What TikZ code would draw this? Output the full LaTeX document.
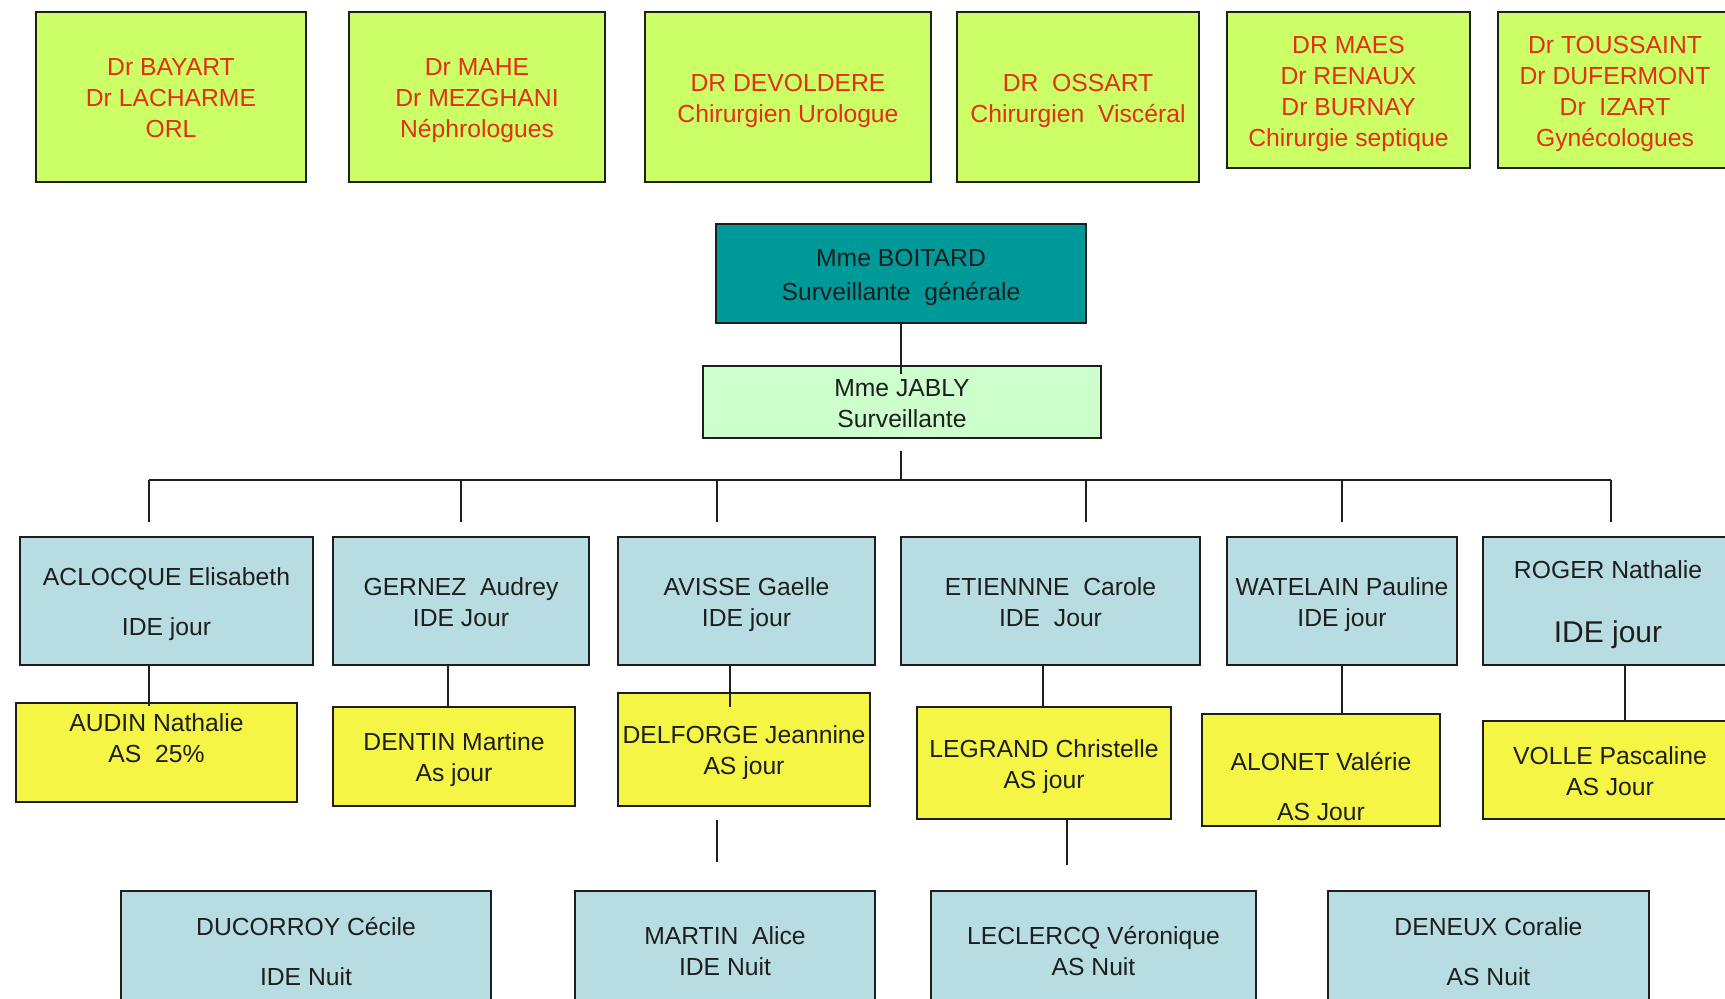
\documentclass[tikz,border=0pt]{standalone}
\usepackage{fontspec}
\setmainfont{Liberation Sans}
\usetikzlibrary{calc}
\definecolor{limegr}{RGB}{204,255,102}
\definecolor{docred}{RGB}{226,48,22}
\definecolor{tealbox}{RGB}{0,153,153}
\definecolor{palegr}{RGB}{204,255,204}
\definecolor{lblue}{RGB}{183,221,227}
\definecolor{ylw}{RGB}{245,245,70}
\definecolor{edge}{RGB}{30,30,30}
\definecolor{txtdark}{RGB}{30,30,30}
\newcommand\chartfont{\fontsize{24.7}{31}\selectfont\setbox\strutbox\hbox{\vrule height 25pt depth 6pt width 0pt}}
\newcommand\bigfont{\fontsize{30}{31}\selectfont}
\begin{document}
\begin{tikzpicture}[x=1pt,y=-1pt,
  box/.style={draw=edge, line width=2pt, inner sep=0pt, align=center, font=\chartfont, text=txtdark},
  docbox/.style={box, fill=limegr, text=docred},
  bossbox/.style={box, fill=tealbox},
  chefbox/.style={box, fill=palegr},
  idebox/.style={box, fill=lblue},
  asbox/.style={box, fill=ylw},
  link/.style={draw=edge, line width=2pt}]
\useasboundingbox (0,0) rectangle (1725,999);
\clip (0,0) rectangle (1725,999);
\fill[white] (0,0) rectangle (1725,999);

% doctors
\node[docbox, minimum width=270, minimum height=170] (d1) at (171,97) {\strut Dr BAYART\\\strut Dr LACHARME\\\strut ORL};
\node[docbox, minimum width=256, minimum height=170] (d2) at (477,97) {\strut Dr MAHE\\\strut Dr MEZGHANI\\\strut Néphrologues};
\node[docbox, minimum width=286, minimum height=170] (d3) at (788,97) {\strut DR DEVOLDERE\\\strut Chirurgien Urologue};
\node[docbox, minimum width=242, minimum height=170] (d4) at (1078,97) {\strut DR\ \ OSSART\\\strut Chirurgien\ \ Viscéral};
\node[docbox, minimum width=243, minimum height=156] (d5) at (1348.5,90) {\strut DR MAES\\\strut Dr RENAUX\\\strut Dr BURNAY\\\strut Chirurgie septique};
\node[docbox, minimum width=234, minimum height=156] (d6) at (1615,90) {\strut Dr TOUSSAINT\\\strut Dr DUFERMONT\\\strut Dr\ \ IZART\\\strut Gynécologues};

% management
\node[bossbox, minimum width=370, minimum height=99] (boss) at (901,273.5) {\strut Mme BOITARD\\[3pt]\strut Surveillante\ \ générale};
\node[chefbox, minimum width=398, minimum height=72] (jably) at (902,402) {\strut Mme JABLY\\\strut Surveillante};

% day nurses
\node[idebox, minimum width=293, minimum height=128] (n1) at (166.5,601) {\strut ACLOCQUE Elisabeth\\[19pt]\strut IDE jour};
\node[idebox, minimum width=256, minimum height=128] (n2) at (461,601) {\strut GERNEZ\ \ Audrey\\\strut IDE Jour};
\node[idebox, minimum width=257, minimum height=128] (n3) at (746.5,601) {\strut AVISSE Gaelle\\\strut IDE jour};
\node[idebox, minimum width=299, minimum height=128] (n4) at (1050.5,601) {\strut ETIENNNE\ \ Carole\\\strut IDE\ \ Jour};
\node[idebox, minimum width=230, minimum height=128] (n5) at (1342,601) {\strut WATELAIN Pauline\\\strut IDE jour};
\node[idebox, minimum width=250, minimum height=128] (n6) at (1608,601) {\strut ROGER Nathalie\\[33pt]\strut{\bigfont IDE jour}};

% aides
\node[asbox, minimum width=281, minimum height=99] (a1) at (156.5,752.5) {\strut AUDIN Nathalie\\\strut AS\ \ 25\%\\\strut};
\node[asbox, minimum width=242, minimum height=99] (a2) at (454,756.5) {\strut DENTIN Martine\\\strut As jour};
\node[asbox, minimum width=252, minimum height=113] (a3) at (744,749.5) {\strut DELFORGE Jeannine\\\strut AS jour};
\node[asbox, minimum width=254, minimum height=112] (a4) at (1044,763) {\strut LEGRAND Christelle\\\strut AS jour};
\node[asbox, minimum width=238, minimum height=98] (a5) at (1321,770) {\strut\\\strut ALONET Valérie\\[19pt]\strut AS Jour};
\node[asbox, minimum width=254, minimum height=98] (a6) at (1610,770) {\strut VOLLE Pascaline\\\strut AS Jour};

% night staff
\node[idebox, minimum width=370, minimum height=119] (m1) at (306,950.5) {\strut DUCORROY Cécile\\[19pt]\strut IDE Nuit};
\node[idebox, minimum width=300, minimum height=119] (m2) at (725,950.5) {\strut MARTIN\ \ Alice\\\strut IDE Nuit};
\node[idebox, minimum width=325, minimum height=119] (m3) at (1093.5,950.5) {\strut LECLERCQ Véronique\\\strut AS Nuit};
\node[idebox, minimum width=321, minimum height=119] (m4) at (1488.5,950.5) {\strut DENEUX Coralie\\[19pt]\strut AS Nuit};

% connectors
\draw[link] (boss.south) -- ($(boss.south |- jably.north)+(0,9)$);
\coordinate (bus) at (901,480);
\draw[link] ($(jably.south -| bus)+(0,12)$) -- (bus);
\coordinate (b1) at (148.5,480);
\coordinate (b2) at (461,480);
\coordinate (b3) at (717,480);
\coordinate (b4) at (1086,480);
\coordinate (b5) at (1342,480);
\coordinate (b6) at (1611,480);
\draw[link] (b1) -- (b6);
\draw[link] (b1) -- ($(b1 |- n1.north)+(0,-14)$);
\draw[link] (b2) -- ($(b2 |- n2.north)+(0,-14)$);
\draw[link] (b3) -- ($(b3 |- n3.north)+(0,-14)$);
\draw[link] (b4) -- ($(b4 |- n4.north)+(0,-14)$);
\draw[link] (b5) -- ($(b5 |- n5.north)+(0,-14)$);
\draw[link] (b6) -- ($(b6 |- n6.north)+(0,-14)$);

\coordinate (x1) at (149,0);
\coordinate (x2) at (448,0);
\coordinate (x3) at (730,0);
\coordinate (x4) at (1043,0);
\coordinate (x5) at (1342,0);
\coordinate (x6) at (1625,0);
\coordinate (x7) at (717,0);
\coordinate (x8) at (1067,0);
\draw[link] (n1.south -| x1) -- ($(a1.north -| x1)+(0,4)$);
\draw[link] (n2.south -| x2) -- (a2.north -| x2);
\draw[link] (n3.south -| x3) -- ($(a3.north -| x3)+(0,15)$);
\draw[link] (n4.south -| x4) -- (a4.north -| x4);
\draw[link] (n5.south -| x5) -- (a5.north -| x5);
\draw[link] (n6.south -| x6) -- (a6.north -| x6);
\draw[link] ($(a3.south -| x7)+(0,13)$) -- ($(m2.north -| x7)+(0,-28)$);
\draw[link] (a4.south -| x8) -- ($(m3.north -| x8)+(0,-25)$);
\end{tikzpicture}
\end{document}
